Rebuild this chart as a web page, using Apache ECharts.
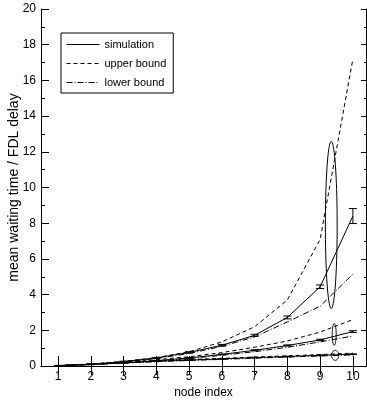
<!DOCTYPE html>
<html>
<head>
<meta charset="utf-8">
<script src="https://cdn.jsdelivr.net/npm/echarts@6/dist/echarts.min.js"></script>
<style>
  html, body { margin: 0; padding: 0; background: #fff; }
  #chart { width: 367px; height: 403px; }
</style>
</head>
<body>
<div id="chart"></div>
<script>
var nodes = [1, 2, 3, 4, 5, 6, 7, 8, 9, 10];
var xTicks = [1, 2, 3, 4, 5, 6, 7, 8, 9, 10];

// high load group
var simHigh = [0.02, 0.1, 0.25, 0.45, 0.76, 1.16, 1.72, 2.72, 4.44, 8.4];
var errHigh = [0.01, 0.01, 0.02, 0.03, 0.04, 0.05, 0.06, 0.08, 0.1, 0.42];
var upHigh = [0.02, 0.11, 0.26, 0.47, 0.8, 1.35, 2.2, 3.7, 7.1, 17.2];
var lowHigh = [0.02, 0.08, 0.22, 0.42, 0.7, 1.1, 1.63, 2.47, 3.35, 5.15];

// medium load group
var simMid = [0.02, 0.08, 0.18, 0.3, 0.45, 0.65, 0.88, 1.15, 1.46, 1.93];
var errMid = [0.01, 0.01, 0.01, 0.02, 0.02, 0.02, 0.03, 0.03, 0.04, 0.05];
var upMid = [0.02, 0.09, 0.2, 0.35, 0.52, 0.75, 1.05, 1.4, 1.9, 2.6];
var lowMid = [0.02, 0.08, 0.17, 0.28, 0.42, 0.6, 0.8, 1.05, 1.35, 1.68];

// low load group
var simLow = [0.02, 0.1, 0.18, 0.26, 0.33, 0.4, 0.47, 0.53, 0.6, 0.66];
var errLow = [0.01, 0.01, 0.01, 0.01, 0.01, 0.01, 0.02, 0.02, 0.02, 0.02];
var upLow = [0.02, 0.11, 0.2, 0.28, 0.36, 0.43, 0.5, 0.57, 0.64, 0.72];
var lowLow = [0.02, 0.09, 0.16, 0.24, 0.31, 0.37, 0.44, 0.5, 0.56, 0.62];

// ellipses: [cx, cy, rx, ry]
var ellipses = [
    [9.34, 7.9, 0.18, 4.68],
    [9.43, 1.77, 0.06, 0.61],
    [9.46, 0.6, 0.11, 0.28]
];

var chart = echarts.init(document.getElementById('chart'));

function pairs(arr) {
    return nodes.map(function (x, i) { return [x, arr[i]]; });
}
function bars(arr, err) {
    return nodes.map(function (x, i) { return [x, arr[i] - err[i], arr[i] + err[i]]; });
}

function lineSeries(name, arr, type) {
    return {
        name: name,
        type: 'line',
        data: pairs(arr),
        symbol: 'none',
        color: '#000',
        lineStyle: { color: '#000', width: 1, type: type },
        silent: true,
        z: 3
    };
}

function errorSeries(arr, err) {
    return {
        type: 'custom',
        name: 'err',
        data: bars(arr, err),
        silent: true,
        z: 4,
        renderItem: function (params, api) {
            var lo = api.coord([api.value(0), api.value(1)]);
            var hi = api.coord([api.value(0), api.value(2)]);
            var w = 4;
            var st = { stroke: '#000', lineWidth: 1 };
            return {
                type: 'group',
                children: [
                    { type: 'line', shape: { x1: lo[0], y1: lo[1], x2: hi[0], y2: hi[1] }, style: st },
                    { type: 'line', shape: { x1: lo[0] - w, y1: lo[1], x2: lo[0] + w, y2: lo[1] }, style: st },
                    { type: 'line', shape: { x1: hi[0] - w, y1: hi[1], x2: hi[0] + w, y2: hi[1] }, style: st }
                ]
            };
        }
    };
}

var tickFont = { fontFamily: 'Liberation Sans', fontSize: 12, color: '#000' };

chart.setOption({
    animation: false,
    backgroundColor: '#fff',
    grid: { left: 41, right: 1, top: 9, bottom: 37, containLabel: false, outerBoundsMode: 'none' },
    legend: {
        data: ['simulation', 'upper bound', 'lower bound'],
        orient: 'vertical',
        left: 61,
        top: 33,
        padding: [6, 7, 5, 5],
        itemWidth: 33,
        itemHeight: 10,
        itemGap: 8,
        borderColor: '#000',
        borderWidth: 1,
        borderRadius: 0,
        itemStyle: { opacity: 0 },
        lineStyle: { width: 1, color: '#000' },
        textStyle: { fontFamily: 'Liberation Sans', fontSize: 11, color: '#000' }
    },
    xAxis: [{
        type: 'value',
        min: 0.48,
        max: 10.4,
        name: 'node index',
        nameLocation: 'middle',
        nameGap: 21,
        nameMoveOverlap: false,
        nameTextStyle: { fontFamily: 'Liberation Sans', fontSize: 12, color: '#000' },
        axisLine: { lineStyle: { color: '#000', width: 1 } },
        axisTick: { inside: true, length: 10, customValues: xTicks, lineStyle: { color: '#000' } },
        axisLabel: Object.assign({ customValues: xTicks, margin: 5 }, tickFont),
        splitLine: { show: false }
    }, {
        type: 'value',
        position: 'top',
        min: 0.48,
        max: 10.4,
        axisLine: { lineStyle: { color: '#000', width: 1 } },
        axisTick: { inside: true, length: 9, customValues: xTicks, lineStyle: { color: '#000' } },
        axisLabel: { show: false },
        splitLine: { show: false }
    }],
    yAxis: [{
        type: 'value',
        min: 0,
        max: 20,
        interval: 2,
        name: 'mean waiting time / FDL delay',
        nameLocation: 'middle',
        nameGap: 20,
        nameMoveOverlap: false,
        nameTextStyle: { fontFamily: 'Liberation Sans', fontSize: 14, color: '#000' },
        axisLine: { show: true, lineStyle: { color: '#000', width: 1 } },
        axisTick: { show: true, inside: true, length: 8, lineStyle: { color: '#000' } },
        minorTick: { show: true, splitNumber: 2, length: 4, lineStyle: { color: '#000' } },
        axisLabel: Object.assign({ margin: 5 }, tickFont),
        splitLine: { show: false }
    }, {
        type: 'value',
        position: 'right',
        min: 0,
        max: 20,
        interval: 2,
        axisLine: { show: true, lineStyle: { color: '#000', width: 1 } },
        axisTick: { show: true, inside: true, length: 5, lineStyle: { color: '#000' } },
        minorTick: { show: true, splitNumber: 2, length: 2, lineStyle: { color: '#000' } },
        axisLabel: { show: false },
        splitLine: { show: false }
    }],
    series: [
        lineSeries('simulation', simHigh, 'solid'),
        lineSeries('upper bound', upHigh, [4, 3]),
        lineSeries('lower bound', lowHigh, [6, 2, 1, 2]),
        lineSeries('simulation', simMid, 'solid'),
        lineSeries('upper bound', upMid, [4, 3]),
        lineSeries('lower bound', lowMid, [6, 2, 1, 2]),
        lineSeries('simulation', simLow, 'solid'),
        lineSeries('upper bound', upLow, [4, 3]),
        lineSeries('lower bound', lowLow, [6, 2, 1, 2]),
        errorSeries(simHigh, errHigh),
        errorSeries(simMid, errMid),
        errorSeries(simLow, errLow),
        {
            type: 'custom',
            name: 'ellipse',
            data: ellipses,
            silent: true,
            z: 5,
            renderItem: function (params, api) {
                var c = api.coord([api.value(0), api.value(1)]);
                var s = api.size([api.value(2), api.value(3)]);
                var pts = [];
                for (var k = 0; k < 72; k++) {
                    var t = k / 72 * Math.PI * 2;
                    pts.push([c[0] + s[0] * Math.cos(t), c[1] + s[1] * Math.sin(t)]);
                }
                return {
                    type: 'polygon',
                    shape: { points: pts },
                    style: { fill: 'none', stroke: '#000', lineWidth: 1 }
                };
            }
        }
    ]
});
</script>
</body>
</html>
